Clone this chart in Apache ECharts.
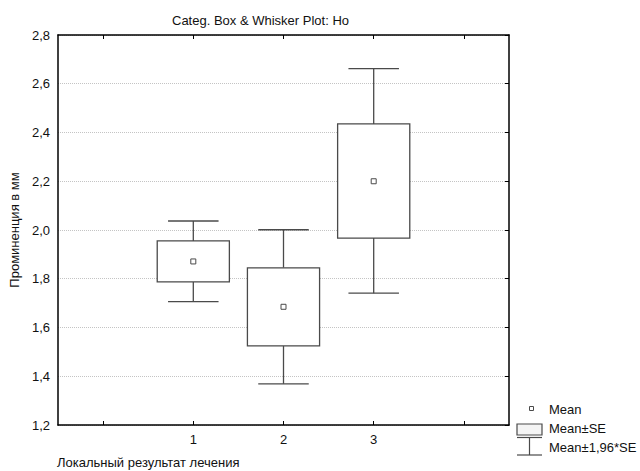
<!DOCTYPE html>
<html>
<head>
<meta charset="utf-8">
<script src="https://cdn.jsdelivr.net/npm/echarts@6/dist/echarts.min.js"></script>
<style>
  html, body { margin: 0; padding: 0; background: #fff; }
  #chart { width: 640px; height: 471px; }
</style>
</head>
<body>
<div id="chart"></div>
<script>
// Axis categories: empty slots at both ends pad the plot
const categories = ['', '1', '2', '3', ''];
const groupIndex = [1, 2, 3];
// Group statistics
const means  = [1.871, 1.685, 2.200];
const seLow  = [1.787, 1.525, 1.967];
const seHigh = [1.955, 1.845, 2.435];
const ciLow  = [1.706, 1.369, 1.741];
const ciHigh = [2.037, 2.001, 2.662];
const yTicks = { min: 1.2, max: 2.8, step: 0.2 };

const FONT = '"Liberation Sans", Arial, sans-serif';
const FS = 13;
const STROKE = '#4a4a4a';

const rows = groupIndex.map((g, i) => [g, ciLow[i], seLow[i], means[i], seHigh[i], ciHigh[i]]);

function renderBox(params, api) {
  const x = api.value(0);
  const pLo = api.coord([x, api.value(1)]);
  const pBoxLo = api.coord([x, api.value(2)]);
  const pMean = api.coord([x, api.value(3)]);
  const pBoxHi = api.coord([x, api.value(4)]);
  const pHi = api.coord([x, api.value(5)]);
  const band = api.size([1, 0])[0];
  const halfBox = band * 0.4;
  const halfCap = band * 0.28;
  const cx = pMean[0];
  const ls = { stroke: STROKE, lineWidth: 1.3, fill: null };
  return {
    type: 'group',
    children: [
      { type: 'line', shape: { x1: cx, y1: pHi[1], x2: cx, y2: pBoxHi[1] }, style: ls },
      { type: 'line', shape: { x1: cx - halfCap, y1: pHi[1], x2: cx + halfCap, y2: pHi[1] }, style: ls },
      { type: 'line', shape: { x1: cx, y1: pLo[1], x2: cx, y2: pBoxLo[1] }, style: ls },
      { type: 'line', shape: { x1: cx - halfCap, y1: pLo[1], x2: cx + halfCap, y2: pLo[1] }, style: ls },
      { type: 'rect', shape: { x: cx - halfBox, y: pBoxHi[1], width: halfBox * 2, height: pBoxLo[1] - pBoxHi[1] },
        style: { stroke: STROKE, lineWidth: 1.3, fill: '#fff' } },
      { type: 'rect', shape: { x: cx - 2.5, y: pMean[1] - 2.5, width: 5, height: 5 },
        style: { stroke: STROKE, lineWidth: 1, fill: '#fff' } }
    ]
  };
}

const fmt = v => v.toFixed(1).replace('.', ',');

const chart = echarts.init(document.getElementById('chart'), null, { renderer: 'svg' });
chart.setOption({
  animation: false,
  backgroundColor: '#fff',
  textStyle: { fontFamily: FONT },
  title: {
    text: 'Categ. Box & Whisker Plot: Ho',
    left: 167, top: 9,
    textStyle: { fontFamily: FONT, fontSize: FS, fontWeight: 'normal', color: '#111' }
  },
  grid: { left: 56, right: 131, top: 35, bottom: 46 },
  xAxis: [
    {
      type: 'category', data: categories, position: 'bottom', boundaryGap: true,
      axisLine: { lineStyle: { color: '#000', width: 1.5 } },
      axisTick: { show: true, alignWithLabel: true, inside: true, length: 4, lineStyle: { color: '#000' } },
      axisLabel: { color: '#111', fontSize: FS, fontFamily: FONT, margin: 8, interval: 0 },
      splitLine: { show: false }
    },
    {
      type: 'category', data: categories, position: 'top', boundaryGap: true,
      axisLine: { lineStyle: { color: '#000', width: 1.5 } },
      axisTick: { show: true, alignWithLabel: true, inside: true, length: 4, lineStyle: { color: '#000' } },
      axisLabel: { show: false },
      splitLine: { show: false }
    }
  ],
  yAxis: [
    {
      type: 'value', min: yTicks.min, max: yTicks.max, interval: yTicks.step, position: 'left',
      name: 'Проминенция в мм', nameLocation: 'middle', nameGap: 37,
      nameTextStyle: { color: '#111', fontSize: FS, fontFamily: FONT },
      axisLine: { show: true, lineStyle: { color: '#000', width: 1.5 } },
      axisTick: { show: false },
      axisLabel: { color: '#111', fontSize: FS, fontFamily: FONT, margin: 8, formatter: fmt },
      splitLine: { show: true, lineStyle: { color: '#c4c4c4', type: [1, 1], width: 1 } }
    },
    {
      type: 'value', min: yTicks.min, max: yTicks.max, interval: yTicks.step, position: 'right',
      axisLine: { show: true, lineStyle: { color: '#000', width: 1.5 } },
      axisTick: { show: true, inside: true, length: 4, lineStyle: { color: '#000' } },
      axisLabel: { show: false },
      splitLine: { show: false }
    }
  ],
  series: [
    {
      type: 'custom', name: 'Mean±1,96*SE',
      xAxisIndex: 0, yAxisIndex: 0,
      renderItem: renderBox,
      encode: { x: 0, y: [1, 2, 3, 4, 5] },
      data: rows,
      z: 5
    }
  ],
  graphic: [
    // x-axis title
    { type: 'text', left: 57, top: 456,
      style: { text: 'Локальный результат лечения', fill: '#111', font: FS + 'px ' + FONT } },
    // legend: mean marker
    { type: 'rect', shape: { x: 529.5, y: 406.5, width: 4, height: 4 },
      style: { stroke: STROKE, lineWidth: 1, fill: '#fff' } },
    { type: 'text', left: 549, top: 403,
      style: { text: 'Mean', fill: '#111', font: FS + 'px ' + FONT } },
    // legend: box
    { type: 'rect', shape: { x: 517, y: 424, width: 25, height: 11 },
      style: { stroke: STROKE, lineWidth: 1.2, fill: '#f4f4f4' } },
    { type: 'text', left: 549, top: 422,
      style: { text: 'Mean±SE', fill: '#111', font: FS + 'px ' + FONT } },
    // legend: whisker
    { type: 'line', shape: { x1: 517, y1: 437.5, x2: 542, y2: 437.5 }, style: { stroke: STROKE, lineWidth: 1.2 } },
    { type: 'line', shape: { x1: 529.5, y1: 437.5, x2: 529.5, y2: 455 }, style: { stroke: STROKE, lineWidth: 1.2 } },
    { type: 'line', shape: { x1: 517, y1: 455, x2: 542, y2: 455 }, style: { stroke: STROKE, lineWidth: 1.2 } },
    { type: 'text', left: 549, top: 441,
      style: { text: 'Mean±1,96*SE', fill: '#111', font: FS + 'px ' + FONT } }
  ]
});
</script>
</body>
</html>
